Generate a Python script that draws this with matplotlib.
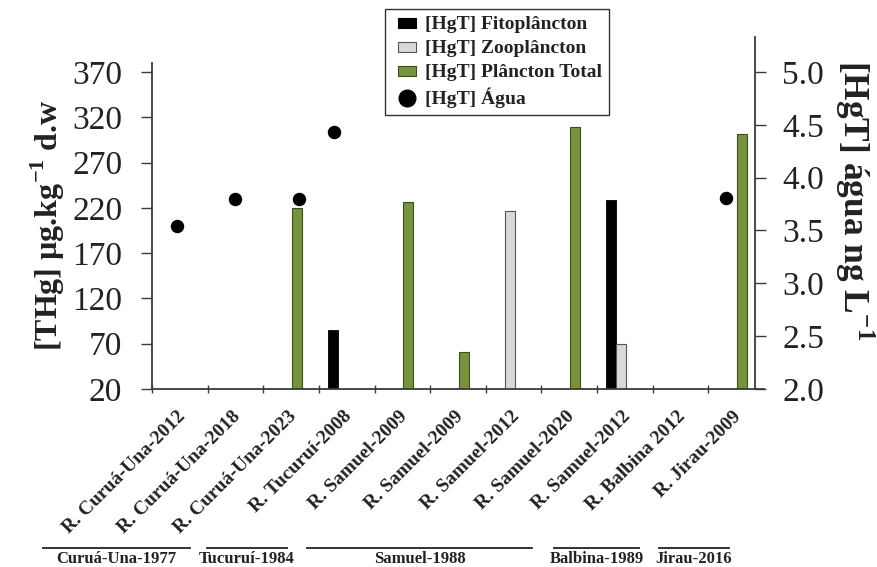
import numpy as np
import matplotlib
matplotlib.use("Agg")
import matplotlib.pyplot as plt
from matplotlib.path import Path
from matplotlib.lines import Line2D

plt.rcParams["font.family"] = ["Liberation Serif", "DejaVu Serif"]
plt.rcParams["mathtext.fontset"] = "custom"
plt.rcParams["mathtext.rm"] = "Liberation Serif"
plt.rcParams["mathtext.bf"] = "Liberation Serif:bold"

# sampling campaigns (reservoir - year)
sites = [
    "R. Curuá-Una-2012", "R. Curuá-Una-2018", "R. Curuá-Una-2023",
    "R. Tucuruí-2008", "R. Samuel-2009", "R. Samuel-2009", "R. Samuel-2012",
    "R. Samuel-2020", "R. Samuel-2012", "R. Balbina 2012", "R. Jirau-2009",
]
nan = np.nan
# [HgT] in plankton, ug/kg d.w
fito = [nan, nan, nan, 85, nan, nan, nan, nan, 229, nan, nan]
zoo = [nan, nan, nan, nan, nan, nan, 217, nan, 70, nan, nan]
total = [nan, nan, 220, nan, 226, 61, nan, 309, nan, nan, 302]
# [HgT] in water, ng/L
agua = [3.54, 3.80, 3.80, 4.43, nan, nan, nan, nan, nan, nan, 3.81]

reservoirs = ["Curuá-Una-1977", "Tucuruí-1984", "Samuel-1988", "Balbina-1989", "Jirau-2016"]

GREEN = "#77933c"
GREY = "#d9d9d9"
AXC = "#3a3a3a"
TXT = "#222222"

fig = plt.figure(figsize=(8.77, 5.67), dpi=100)
ax = fig.add_axes([152 / 877, 1 - 389 / 567, 612 / 877, 352 / 567])
ax2 = ax.twinx()

x = np.arange(len(sites))
w = 0.18
ax.bar(x + 0.25, fito, w, color="black", edgecolor="black", linewidth=0.6, zorder=2)
ax.bar(x + 0.43, zoo, w, color=GREY, edgecolor="#555555", linewidth=0.8, zorder=2)
ax.bar(x + 0.61, total, w, color=GREEN, edgecolor="#3d4d1e", linewidth=0.8, zorder=2)

# small horizontal shifts so the water points don't sit on the bars
dot_shift = [0.445, 0.495, 0.65, 0.267, 0.5, 0.5, 0.5, 0.5, 0.5, 0.5, 0.32]
ax2.scatter(x + np.array(dot_shift), agua, s=75, color="black", zorder=3)

ax.set_xlim(0, 11)
ax.set_ylim(20, 408.6)
ax2.set_ylim(2.0, 5.331)
ax.set_yticks(np.arange(20, 371, 50))
ax2.set_yticks(np.arange(2.0, 5.01, 0.5))
ax2.set_yticklabels([f"{v:.1f}" for v in np.arange(2.0, 5.01, 0.5)])
ax.spines["left"].set_bounds(20, 380)

for a in (ax, ax2):
    a.spines["top"].set_visible(False)
    for s in a.spines.values():
        s.set_color(AXC)
        s.set_linewidth(1.3)
ax.spines["right"].set_visible(False)
ax2.spines["left"].set_visible(False)
ax2.spines["bottom"].set_visible(False)
ax2.spines["right"].set_position(("axes", 603 / 612))

ax.set_xticks(x)
ax.set_xticklabels([])
ax.tick_params(axis="x", direction="inout", length=6, width=1, color=AXC)
ax.tick_params(axis="y", direction="out", length=8, width=1, color=AXC,
               labelsize=24, pad=13.5, labelcolor=TXT)
ax2.tick_params(axis="y", direction="out", length=8, width=1, color=AXC,
                labelsize=24, pad=11.5, labelcolor=TXT)

for i, name in enumerate(sites):
    ax.annotate(name, xy=(i + 0.55, 0), xycoords=("data", "axes fraction"),
                xytext=(0, -18), textcoords="offset points",
                rotation=45, rotation_mode="anchor", ha="right", va="center",
                fontsize=14, fontweight="bold", color=TXT)

fig.text(48 / 877, 1 - 225 / 567, r"[THg] µg.kg$^{\mathbf{-1}}$ d.w", rotation=90,
         ha="center", va="center", fontsize=23, fontweight="bold", color=TXT)
fig.text(855 / 877, 1 - 200 / 567, r"[HgT] água ng L$^{\mathbf{-1}}$", rotation=-90,
         ha="center", va="center", fontsize=25.5, fontweight="bold", color=TXT)

# reservoir groups under the site labels (pixel spans)
spans = [(43, 190), (207, 287), (307, 532), (554, 639), (659, 729)]
for name, (x0, x1) in zip(reservoirs, spans):
    yl = 1 - 548 / 567
    fig.add_artist(Line2D([x0 / 877, x1 / 877], [yl, yl], color=TXT, linewidth=1.3))
    fig.text((x0 + x1) / 2 / 877, 1 - 559 / 567, name, ha="center", va="center",
             fontsize=12, fontweight="bold", color=TXT)

# flat rectangle marker for the bar entries of the legend
rect = Path([(-1, -0.6), (1, -0.6), (1, 0.6), (-1, 0.6), (-1, -0.6)],
            [Path.MOVETO, Path.LINETO, Path.LINETO, Path.LINETO, Path.CLOSEPOLY])
handles = [
    Line2D([], [], marker=rect, linestyle="", markersize=13, markerfacecolor="black",
           markeredgecolor="black", markeredgewidth=0.8),
    Line2D([], [], marker=rect, linestyle="", markersize=13, markerfacecolor=GREY,
           markeredgecolor="#555555", markeredgewidth=0.8),
    Line2D([], [], marker=rect, linestyle="", markersize=13, markerfacecolor=GREEN,
           markeredgecolor="#3d4d1e", markeredgewidth=0.8),
    Line2D([], [], marker="o", linestyle="", color="black", markersize=12),
]
labels = ["[HgT] Fitoplâncton", "[HgT] Zooplâncton", "[HgT] Plâncton Total", "[HgT] Água"]
leg = fig.legend(handles, labels, loc="upper left", bbox_to_anchor=(385 / 877, 1 - 9 / 567),
                 frameon=True, fancybox=False, edgecolor="#333333", framealpha=1,
                 borderaxespad=0, borderpad=0.35, handlelength=1.6, handleheight=0.7,
                 handletextpad=0.1, labelspacing=0.33,
                 prop={"family": "Liberation Serif", "weight": "bold", "size": 14})
leg.get_frame().set_linewidth(1.0)
for t in leg.get_texts():
    t.set_color(TXT)

fig.savefig("out.png", dpi=100)
